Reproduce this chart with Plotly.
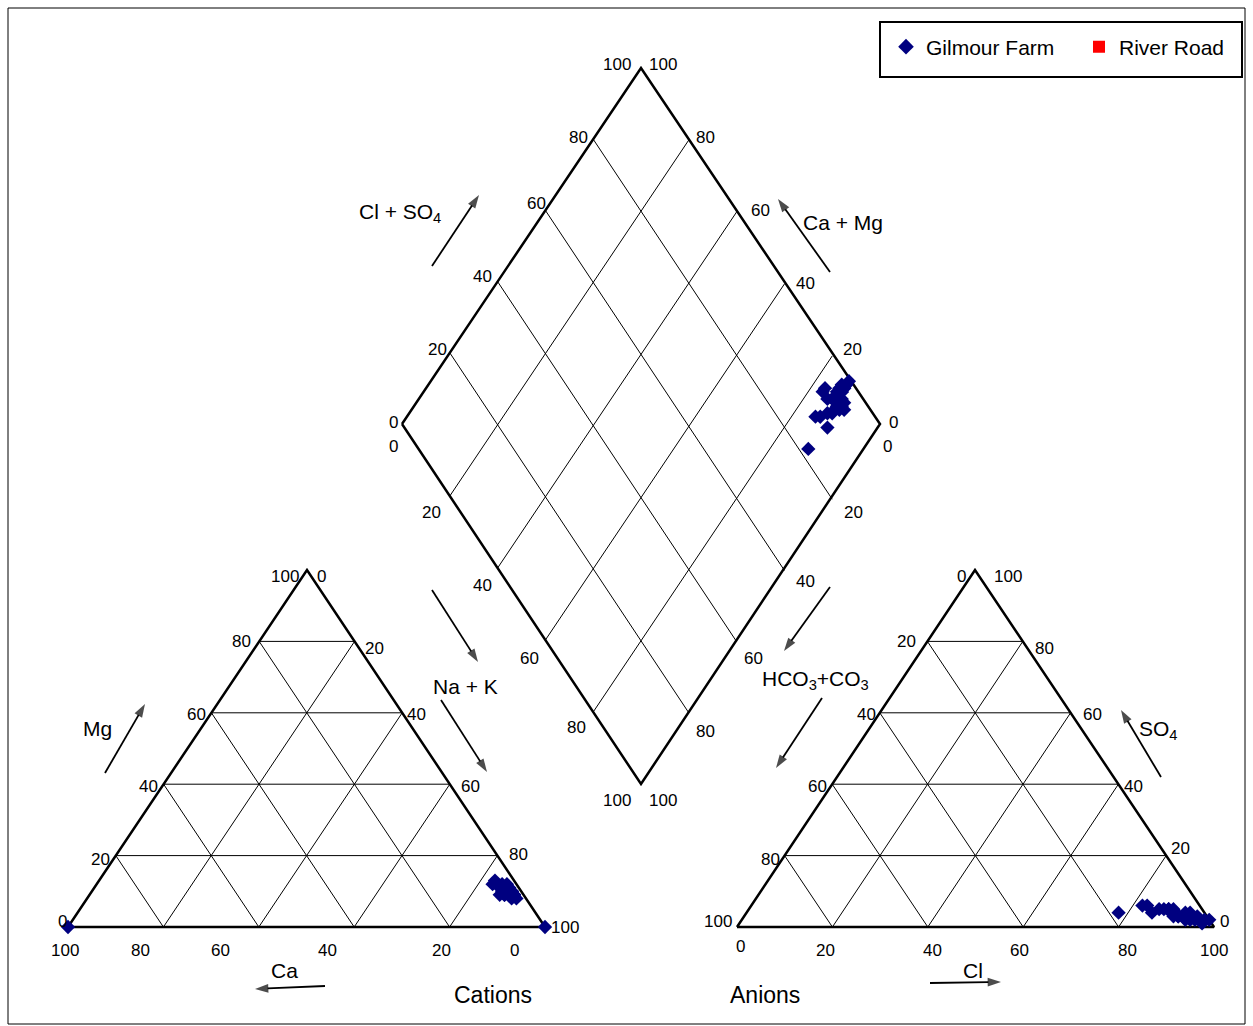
import plotly.graph_objects as go

# ---------------- DATA (% of meq/L) ----------------
# Gilmour Farm samples
gf_ca   = [2, 2, 2, 5, 3, 3, 4, 4, 4, 5, 4, 2, 3, 3, 3, 2, 2, 3, 2, 3, 2, 3, 3, 3, 2, 2, 4, 3]
gf_mg   = [10, 9, 12, 12, 11, 10, 10, 9, 9, 9, 11, 10, 8, 9, 12, 11, 10, 9, 9, 10, 9, 11, 10, 10, 10, 8, 13, 10]
gf_nak  = [88, 89, 86, 83, 86, 87, 86, 87, 87, 86, 85, 88, 89, 88, 85, 87, 88, 88, 89, 87, 89, 86, 87, 87, 88, 90, 83, 87]
gf_hco3 = [18, 11, 11, 7, 6, 5, 3, 2, 1, 2, 7, 6, 4, 4, 12, 9, 7, 7, 6, 3, 5, 4, 2, 3, 8, 5, 6, 0]
gf_so4  = [4, 4, 6, 5, 5, 3, 4, 3, 2, 2, 5, 3, 2, 3, 6, 5, 4, 3, 3, 2, 2, 4, 1, 3, 5, 3, 4, 2]
gf_cl   = [78, 85, 83, 88, 89, 92, 93, 95, 97, 96, 88, 91, 94, 93, 82, 86, 89, 90, 91, 95, 93, 92, 97, 94, 87, 92, 90, 98]
# Gilmour Farm samples with cation analyses only
gfc_ca  = [100, 0]
gfc_mg  = [0, 0]
gfc_nak = [0, 100]
# River Road (no samples plotted)
rr_ca, rr_mg, rr_nak, rr_hco3, rr_so4, rr_cl = [], [], [], [], [], []

tick_vals = [0, 20, 40, 60, 80, 100]

# ---------------- LAYOUT GEOMETRY (pixels) ----------------
W, H = 1253, 1026
CAT = dict(bl=(68, 927), br=(545, 927), top=(307, 570))
AN = dict(bl=(737, 927), br=(1214, 927), top=(975, 570))
DM = dict(left=(402, 424), top=(641, 68), right=(880, 424), bottom=(641, 784))
FONT = "Liberation Sans, Arial, sans-serif"
NAVY = "#000080"


def tri(t, w_bl, w_br, w_top):
    s = w_bl + w_br + w_top
    x = (t["bl"][0] * w_bl + t["br"][0] * w_br + t["top"][0] * w_top) / s
    y = (t["bl"][1] * w_bl + t["br"][1] * w_br + t["top"][1] * w_top) / s
    return x, y


def dia(a, b):
    # a: Cl+SO4 fraction (toward top), b: Na+K fraction (toward bottom)
    L, T, B = DM["left"], DM["top"], DM["bottom"]
    x = L[0] + a * (T[0] - L[0]) + b * (B[0] - L[0])
    y = L[1] + a * (T[1] - L[1]) + b * (B[1] - L[1])
    return x, y


fig = go.Figure()

# grid lines
gx, gy = [], []
for k in [0.2, 0.4, 0.6, 0.8]:
    for t in (CAT, AN):
        for p, q in [
            (tri(t, 1 - k, 0, k), tri(t, 0, 1 - k, k)),
            (tri(t, 1 - k, k, 0), tri(t, 0, k, 1 - k)),
            (tri(t, k, 1 - k, 0), tri(t, k, 0, 1 - k)),
        ]:
            gx += [p[0], q[0], None]
            gy += [p[1], q[1], None]
    for p, q in [(dia(k, 0), dia(k, 1)), (dia(0, k), dia(1, k))]:
        gx += [p[0], q[0], None]
        gy += [p[1], q[1], None]
fig.add_trace(go.Scatter(x=gx, y=gy, mode="lines", line=dict(color="black", width=1),
                         hoverinfo="skip", showlegend=False))

# outlines
ox, oy = [], []
for t in (CAT, AN):
    for v in ["bl", "br", "top", "bl"]:
        ox.append(t[v][0]); oy.append(t[v][1])
    ox.append(None); oy.append(None)
for v in ["left", "top", "right", "bottom", "left"]:
    ox.append(DM[v][0]); oy.append(DM[v][1])
fig.add_trace(go.Scatter(x=ox, y=oy, mode="lines", line=dict(color="black", width=2.5),
                         hoverinfo="skip", showlegend=False))

# direction arrows (tail -> head)
arrows = [((432, 266), (479, 195)), ((830, 272), (778, 199)),
          ((432, 590), (478, 662)), ((441, 700), (487, 772)),
          ((830, 587), (784, 651)), ((822, 698), (776, 768)),
          ((105, 773), (145, 704)), ((1161, 777), (1121, 710)),
          ((325, 986), (255, 989)), ((930, 983), (1001, 982))]
for (tx, ty), (hx, hy) in arrows:
    fig.add_trace(go.Scatter(x=[tx, hx], y=[ty, hy], mode="lines+markers",
                             line=dict(color="black", width=1.8),
                             marker=dict(symbol="arrow", size=[0, 14], color="black",
                                         angleref="previous", line=dict(width=0)),
                             hoverinfo="skip", showlegend=False))


def add_series(name, color, symbol, ca, mg, nak, hco3, so4, cl, show):
    cx, cy = zip(*[tri(CAT, c, n, m) for c, m, n in zip(ca, mg, nak)]) if ca else ([], [])
    ax_, ay_ = zip(*[tri(AN, h, c, s) for h, s, c in zip(hco3, so4, cl)]) if cl else ([], [])
    dx, dy = zip(*[dia((s + c) / 100, n / (c0 + m + n)) for c0, m, n, s, c in zip(ca, mg, nak, so4, cl)]) if cl else ([], [])
    mk = dict(color=color, symbol=symbol, size=11, line=dict(width=0))
    fig.add_trace(go.Scatter(x=list(cx) + list(ax_) + list(dx), y=list(cy) + list(ay_) + list(dy),
                             mode="markers", marker=mk, name=name, legendgroup=name, showlegend=show))


add_series("Gilmour Farm", NAVY, "diamond", gf_ca, gf_mg, gf_nak, gf_hco3, gf_so4, gf_cl, True)
fig.add_trace(go.Scatter(x=[tri(CAT, c, n, m)[0] for c, m, n in zip(gfc_ca, gfc_mg, gfc_nak)],
                         y=[tri(CAT, c, n, m)[1] for c, m, n in zip(gfc_ca, gfc_mg, gfc_nak)],
                         mode="markers", marker=dict(color=NAVY, symbol="diamond", size=11),
                         legendgroup="Gilmour Farm", showlegend=False))
fig.add_trace(go.Scatter(x=[None], y=[None], mode="markers",
                         marker=dict(color="#FF0000", symbol="square", size=9),
                         name="River Road", showlegend=True))

ann = []


def txt(x, y, s, size=17, **kw):
    ann.append(dict(x=x, y=y, xref="x", yref="y", text=s, showarrow=False,
                    font=dict(family=FONT, size=size, color="black"), **kw))


# tick labels (positions as placed on the original chart)
lab = {
    "cat_left":  [(62, 921), (100, 859), (148, 786), (196, 714), (241, 641), (285, 576)],
    "cat_right": [(321, 576), (374, 648), (416, 714), (470, 786), (518, 854), (565, 927)],
    "cat_bot":   [(514, 950), (441, 950), (327, 950), (220, 950), (140, 950), (65, 950)],
    "an_left":   [(961, 576), (906, 641), (866, 714), (817, 786), (770, 859), (718, 921)],
    "an_right":  [(1224, 921), (1180, 848), (1133, 786), (1092, 714), (1044, 648), (1008, 576)],
    "an_bot":    [(740, 946), (825, 950), (932, 950), (1019, 950), (1127, 950), (1214, 950)],
    "dm_ul":     [(393, 422), (437, 349), (482, 276), (536, 203), (578, 137), (617, 64)],
    "dm_ur":     [(893, 422), (852, 349), (805, 283), (760, 210), (705, 137), (663, 64)],
    "dm_ll":     [(393, 446), (431, 512), (482, 585), (529, 658), (576, 727), (617, 800)],
    "dm_lr":     [(887, 446), (853, 512), (805, 581), (753, 658), (705, 731), (663, 800)],
}
for pos in lab.values():
    for v, (x, y) in zip(tick_vals, pos):
        txt(x, y, str(v))

# axis titles
txt(400, 213, "Cl + SO<sub>4</sub>", 21)
txt(843, 222, "Ca + Mg", 21)
txt(465, 686, "Na + K", 21)
txt(815, 680, "HCO<sub>3</sub>+CO<sub>3</sub>", 21)
txt(97, 728, "Mg", 21)
txt(1158, 730, "SO<sub>4</sub>", 21)
txt(284, 970, "Ca", 21)
txt(973, 970, "Cl", 21)
txt(493, 995, "Cations", 23)
txt(765, 995, "Anions", 23)

shapes = [
    dict(type="rect", xref="x", yref="y", x0=8, y0=8, x1=1245, y1=1024,
         line=dict(color="black", width=1)),
    dict(type="rect", xref="x", yref="y", x0=880, y0=22, x1=1242, y1=77,
         line=dict(color="black", width=2)),
]

fig.update_layout(
    width=W, height=H, margin=dict(l=0, r=0, t=0, b=0, autoexpand=False),
    paper_bgcolor="white", plot_bgcolor="white",
    xaxis=dict(range=[0, W], visible=False, fixedrange=True),
    yaxis=dict(range=[H, 0], visible=False, fixedrange=True),
    annotations=ann, shapes=shapes,
    showlegend=True,
    legend=dict(orientation="h", x=886 / W, y=1 - 47 / H, xanchor="left", yanchor="middle",
                bgcolor="rgba(0,0,0,0)", borderwidth=0, entrywidth=148,
                font=dict(family=FONT, size=21, color="black"), itemsizing="constant"),
    font=dict(family=FONT),
)

fig.write_html("out.html", config={"displayModeBar": False},
               post_script="document.body.style.margin='0';document.body.style.overflow='hidden';")
